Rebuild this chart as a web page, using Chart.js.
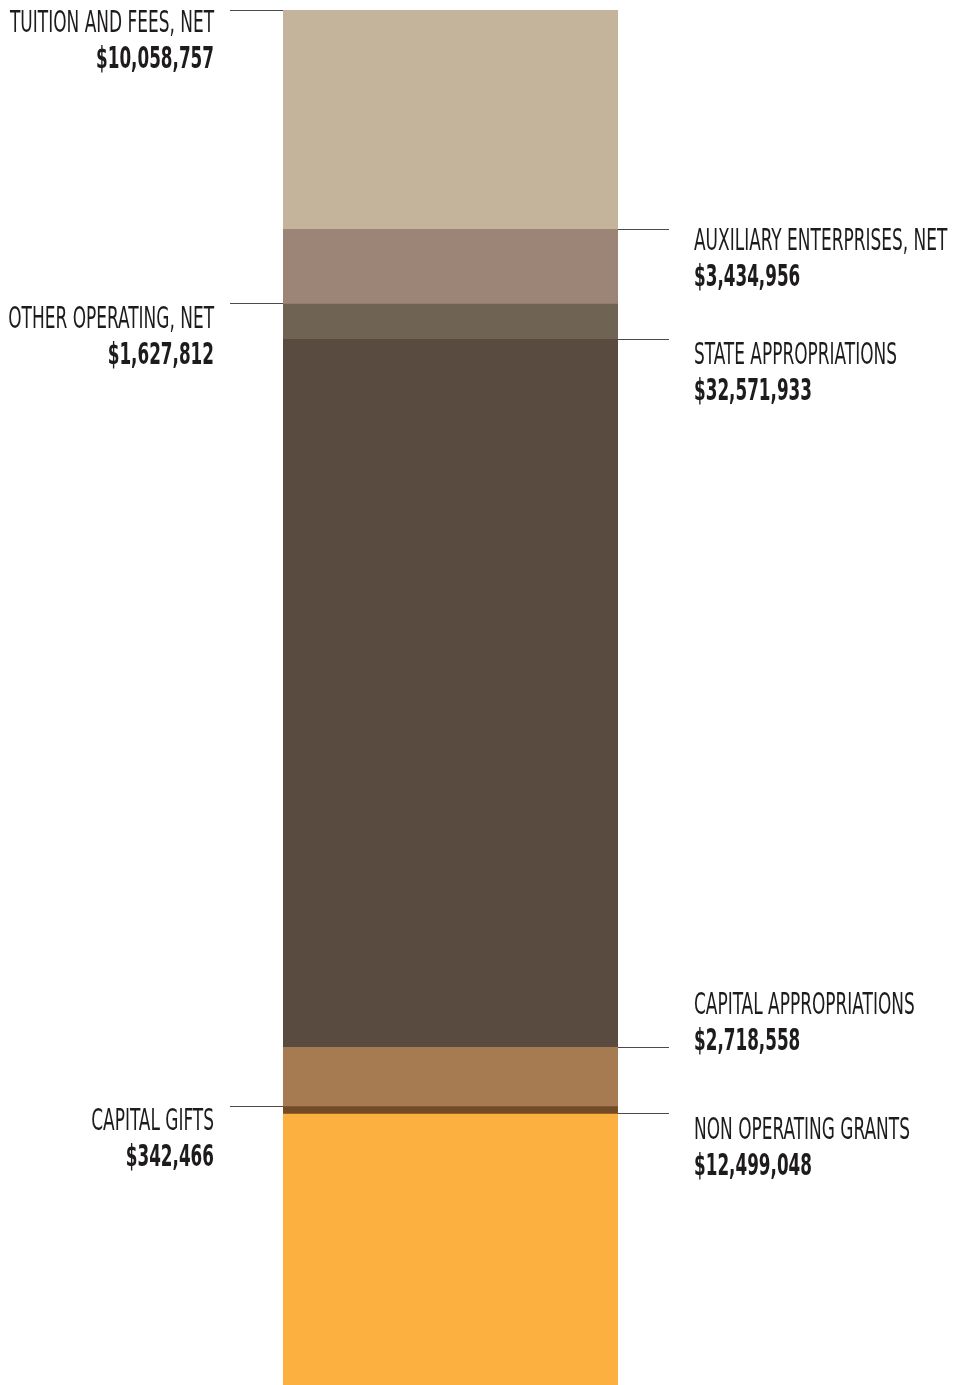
<!DOCTYPE html>
<html><head><meta charset="utf-8">
<script src="https://cdn.jsdelivr.net/npm/chart.js@4/dist/chart.umd.min.js"></script>
<style>html,body{margin:0;padding:0;background:#fff}#wrap{width:960px;height:1385px;position:relative}</style>
</head><body><div id="wrap"><canvas id="c" width="960" height="1385"></canvas></div>
<script>
const categories = ["TUITION AND FEES, NET","AUXILIARY ENTERPRISES, NET","OTHER OPERATING, NET","STATE APPROPRIATIONS","CAPITAL APPROPRIATIONS","CAPITAL GIFTS","NON OPERATING GRANTS"];
const values = [10058757, 3434956, 1627812, 32571933, 2718558, 342466, 12499048];
const colors = ["#c4b49b","#9c8576","#6f6354","#594b40","#a77b52","#744b27","#fbb040"];
const sides = ["left","right","left","right","right","left","right"];
// label center offset from segment top (layout)
const labelOffsets = [14, 13, 17, 17, -41, 16, 18];

const total = values.reduce((a,b)=>a+b,0);
const fmt = v => "$" + v.toLocaleString("en-US");

const labelPlugin = {
  id: "labels",
  afterDatasetsDraw(chart){
    const ctx = chart.ctx, y = chart.scales.y, area = chart.chartArea;
    const regFont = '30px "Liberation Sans Narrow","DejaVu Sans Condensed",sans-serif';
    const boldFont = 'bold 31px "Liberation Sans Narrow","DejaVu Sans Condensed",sans-serif';
    ctx.save();
    ctx.font = regFont;
    const sReg = 204 / ctx.measureText(categories[0]).width;
    ctx.font = boldFont;
    const sBold = 118 / ctx.measureText(fmt(values[0])).width;
    let cum = 0;
    categories.forEach((cat,i)=>{
      const top = Math.round(y.getPixelForValue(cum));
      cum += values[i];
      const left = sides[i]==="left";
      ctx.strokeStyle = "#4a4a4a"; ctx.lineWidth = 1;
      ctx.beginPath();
      if(left){ ctx.moveTo(230, top+0.5); ctx.lineTo(area.left, top+0.5); }
      else { ctx.moveTo(area.right, top+0.5); ctx.lineTo(669, top+0.5); }
      ctx.stroke();
      const ly = top + labelOffsets[i];
      const tx = left ? 214 : 694;
      ctx.fillStyle = "#1e1b1c";
      ctx.textBaseline = "middle";
      ctx.textAlign = left ? "right" : "left";
      [[cat, regFont, sReg, ly],[fmt(values[i]), boldFont, sBold, ly+36]].forEach(([t,f,s,yy])=>{
        ctx.save();
        ctx.font = f;
        ctx.translate(tx, yy);
        ctx.scale(s, 1);
        ctx.fillText(t, 0, 0);
        ctx.restore();
      });
    });
    ctx.restore();
  }
};

new Chart(document.getElementById("c"), {
  type: "bar",
  data: {
    labels: ["Revenue"],
    datasets: categories.map((c,i)=>({label:c, data:[values[i]], backgroundColor:colors[i], borderWidth:0, barPercentage:1, categoryPercentage:1}))
  },
  options: {
    responsive:false, animation:false, devicePixelRatio:1,
    layout:{padding:{left:283, right:342, top:10, bottom:0}},
    plugins:{legend:{display:false}, tooltip:{enabled:false}},
    scales:{
      x:{stacked:true, display:false, offset:true},
      y:{stacked:true, display:false, reverse:true, min:0, max:total}
    }
  },
  plugins:[labelPlugin]
});
</script></body></html>
